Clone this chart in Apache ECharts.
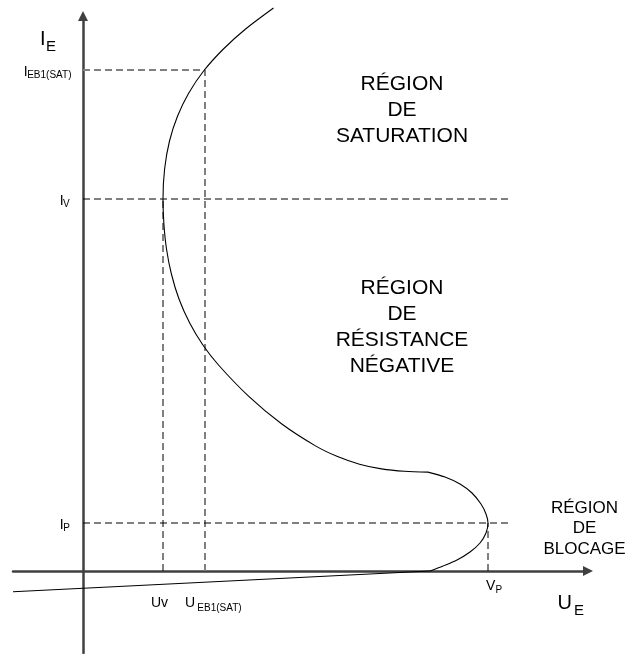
<!DOCTYPE html>
<html><head><meta charset="utf-8">
<script src="https://cdn.jsdelivr.net/npm/echarts@6/dist/echarts.min.js"></script>
<style>html,body{margin:0;padding:0;background:#fff}#c{width:626px;height:654px}</style>
</head><body><div id="c"></div>
<script>
// ---- data (arbitrary units: U_E horizontally, I_E vertically) ----
const branchU = [19.05, 16.26, 14.04, 12.06, 10.58, 9.46, 8.65, 8.16, 8.0, 8.09, 8.35, 8.84, 9.6, 10.67, 11.99, 13.55, 16.55, 19.85, 23.25, 25.45, 27.65, 29.85, 32.15, 34.5];
const branchI = [56.3, 54.2, 52.2, 50.0, 47.8, 45.5, 43.0, 40.2, 37.2, 34.7, 32.2, 29.7, 27.2, 24.8, 22.6, 20.6, 17.49, 14.72, 12.51, 11.44, 10.68, 10.21, 9.97, 9.89];
const peakU = [34.5, 36.2, 37.7, 38.9, 39.8, 40.3, 40.5, 40.3, 39.7, 38.7, 37.4, 36.0, 34.7];
const peakI = [9.89, 9.4, 8.7, 7.8, 6.7, 5.7, 4.8, 3.8, 2.8, 1.9, 1.1, 0.5, 0];
const cutoffU = [34.7, -7];
const cutoffI = [0, -2.07];

const Isat = 50.1, Iv = 37.2, Ip = 4.8;
const Usat = 12.2, Uv = 8.0, Vp = 40.5;
const guideEnd = 42.5;

const yTickValues = [Isat, Iv, Ip];
const yTickMain = ['I', 'I', 'I'];
const yTickSub = ['EB1(SAT)', 'V', 'P'];
const xTickValues = [Uv, Usat, Vp];
const xTickMain = ['Uv', 'U', 'V'];
const xTickSub = ['', 'EB1(SAT)', 'P'];

const regionSat = ['RÉGION', 'DE', 'SATURATION'];
const regionNeg = ['RÉGION', 'DE', 'RÉSISTANCE', 'NÉGATIVE'];
const regionBlo = ['RÉGION', 'DE', 'BLOCAGE'];

// ---- chart ----
const FF = '"Liberation Sans", Arial, Helvetica, sans-serif';
const zip = (a, b) => a.map((v, i) => [v, b[i]]);
const chart = echarts.init(document.getElementById('c'), null, {renderer: 'canvas'});

const dashBlack = {color: '#000', width: 1, type: [7, 4]};
const dashGray = {color: '#808080', width: 2, type: [7, 4]};
function guide(data, style) {
  return {type: 'line', data: data, symbol: 'none', silent: true, clip: false,
    lineStyle: style, z: 1};
}
const curveStyle = {color: '#000', width: 1.1};

chart.setOption({
  animation: false,
  grid: {left: 13, right: 38, top: 16, bottom: 1, containLabel: false},
  xAxis: {type: 'value', min: -7, max: 50.5,
    axisLine: {onZero: true, symbol: ['none', 'triangle'], symbolSize: [10, 10],
      lineStyle: {color: '#404040', width: 2.5}},
    axisTick: {show: false}, axisLabel: {show: false}, splitLine: {show: false}},
  yAxis: {type: 'value', min: -8.2, max: 55.5,
    axisLine: {onZero: true, symbol: ['none', 'triangle'], symbolSize: [10, 10],
      lineStyle: {color: '#404040', width: 2.5}},
    axisTick: {show: false}, axisLabel: {show: false}, splitLine: {show: false}},
  series: [
    guide([[0, Isat], [Usat, Isat]], dashGray),
    guide([[Usat, 0], [Usat, Isat]], dashGray),
    guide([[0, Iv], [guideEnd, Iv]], dashBlack),
    guide([[0, Ip], [guideEnd, Ip]], dashBlack),
    guide([[Uv, 0], [Uv, Iv]], dashBlack),
    guide([[Vp, 0], [Vp, Ip]], dashBlack),
    {type: 'line', data: zip(branchU, branchI), symbol: 'none', smooth: 0.3, clip: false,
      lineStyle: curveStyle, z: 3},
    {type: 'line', data: zip(peakU, peakI), symbol: 'none', smooth: 0.3, clip: false,
      lineStyle: curveStyle, z: 3},
    {type: 'line', data: zip(cutoffU, cutoffI), symbol: 'none', clip: false,
      lineStyle: curveStyle, z: 3}
  ]
});

const P = (u, i) => chart.convertToPixel({xAxisIndex: 0, yAxisIndex: 0}, [u, i]);
const o = P(0, 0);
function txt(str, x, y, size, align, lh) {
  return {type: 'text', x: x, y: y, z: 10, silent: true,
    style: {text: str, fill: '#000', fontSize: size, fontFamily: FF,
      align: align || 'left', verticalAlign: 'middle', lineHeight: lh || size}};
}
const g = [];
// axis names
g.push(txt('I', 40, 39.5, 20));
g.push(txt('E', 46, 47, 15));
g.push(txt('U', 557.5, 603, 20));
g.push(txt('E', 574, 611, 15));
// y tick labels
const yMainDx = [-59.3, -23.3, -23.3];
const ySubDx = [-55.8, -20, -19.8];
yTickValues.forEach((v, k) => {
  const py = P(0, v)[1];
  g.push(txt(yTickMain[k], o[0] + yMainDx[k], py + 2, 14));
  g.push(txt(yTickSub[k], o[0] + ySubDx[k], py + 5.5, 10));
});
// x tick labels
const xMainDx = [-12, -20, -2];
const xMainDy = [32.5, 32.5, 15];
const xSubDx = [0, -7.7, 7.5];
const xSubDy = [0, 37, 19];
xTickValues.forEach((v, k) => {
  const px = P(v, 0)[0];
  g.push(txt(xTickMain[k], px + xMainDx[k], o[1] + xMainDy[k], 14));
  if (xTickSub[k]) g.push(txt(xTickSub[k], px + xSubDx[k], o[1] + xSubDy[k], 10));
});
// region labels
g.push(txt(regionSat.join('\n'), 402, 110.3, 21, 'center', 26));
g.push(txt(regionNeg.join('\n'), 402, 327.5, 21, 'center', 26));
g.push(txt(regionBlo.join('\n'), 584.5, 528.5, 17, 'center', 20.5));
chart.setOption({graphic: {elements: g}});
</script></body></html>
